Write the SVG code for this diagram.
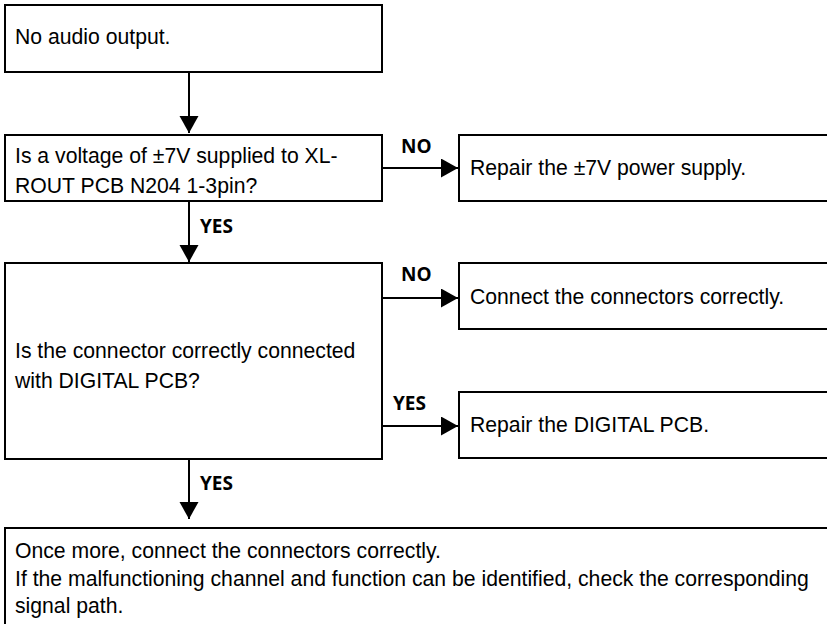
<svg xmlns="http://www.w3.org/2000/svg" width="827" height="624" viewBox="0 0 827 624">
<defs>
<style>
.box{fill:#fff;stroke:#000;stroke-width:2}
.t{font-family:"Liberation Sans",Arial,sans-serif;font-size:21.2px;fill:#000}
.lbl{font-family:"Open Sans","Noto Sans",sans-serif;font-weight:bold;font-size:19px;fill:#000}
.c{fill:none;stroke:#000;stroke-width:2}
</style>
<marker id="ah" markerUnits="userSpaceOnUse" markerWidth="20" markerHeight="20" refX="17" refY="9.5" orient="auto">
<path d="M0,0 L17,9.5 L0,19 Z" fill="#000"/>
</marker>
</defs>
<rect width="827" height="624" fill="#fff"/>
<g id="n1"><rect class="box" x="5" y="5" width="377" height="67"/><text class="t" x="15" y="44">No audio output.</text></g>
<g id="n2"><rect class="box" x="5" y="135" width="377" height="66"/><text class="t" x="15" y="163">Is a voltage of ±7V supplied to XL-</text><text class="t" x="15" y="193">ROUT PCB N204 1-3pin?</text></g>
<g id="n3"><rect class="box" x="459" y="135" width="380" height="66"/><text class="t" x="470" y="175">Repair the ±7V power supply.</text></g>
<g id="n4"><rect class="box" x="5" y="263" width="377" height="196"/><text class="t" x="15" y="358">Is the connector correctly connected</text><text class="t" x="15" y="388">with DIGITAL PCB?</text></g>
<g id="n5"><rect class="box" x="459" y="263" width="380" height="66"/><text class="t" x="470" y="304">Connect the connectors correctly.</text></g>
<g id="n6"><rect class="box" x="459" y="392" width="380" height="66"/><text class="t" x="470" y="432">Repair the DIGITAL PCB.</text></g>
<g id="n7"><rect class="box" x="5" y="528" width="834" height="110"/><text class="t" x="15" y="558">Once more, connect the connectors correctly.</text><text class="t" x="15" y="586">If the malfunctioning channel and function can be identified, check the corresponding</text><text class="t" x="15" y="613">signal path.</text></g>
<g id="connectors">
<path class="c" d="M189,72 V133" marker-end="url(#ah)"/>
<path class="c" d="M189,201 V262" marker-end="url(#ah)"/>
<path class="c" d="M189,459 V519" marker-end="url(#ah)"/>
<path class="c" d="M382,168 H458" marker-end="url(#ah)"/>
<path class="c" d="M382,298 H458" marker-end="url(#ah)"/>
<path class="c" d="M382,426 H458" marker-end="url(#ah)"/>
<text class="lbl" x="401" y="153">NO</text>
<text class="lbl" x="401" y="281">NO</text>
<text class="lbl" x="393" y="410">YES</text>
<text class="lbl" x="200" y="233">YES</text>
<text class="lbl" x="200" y="490">YES</text>
</g>
</svg>
